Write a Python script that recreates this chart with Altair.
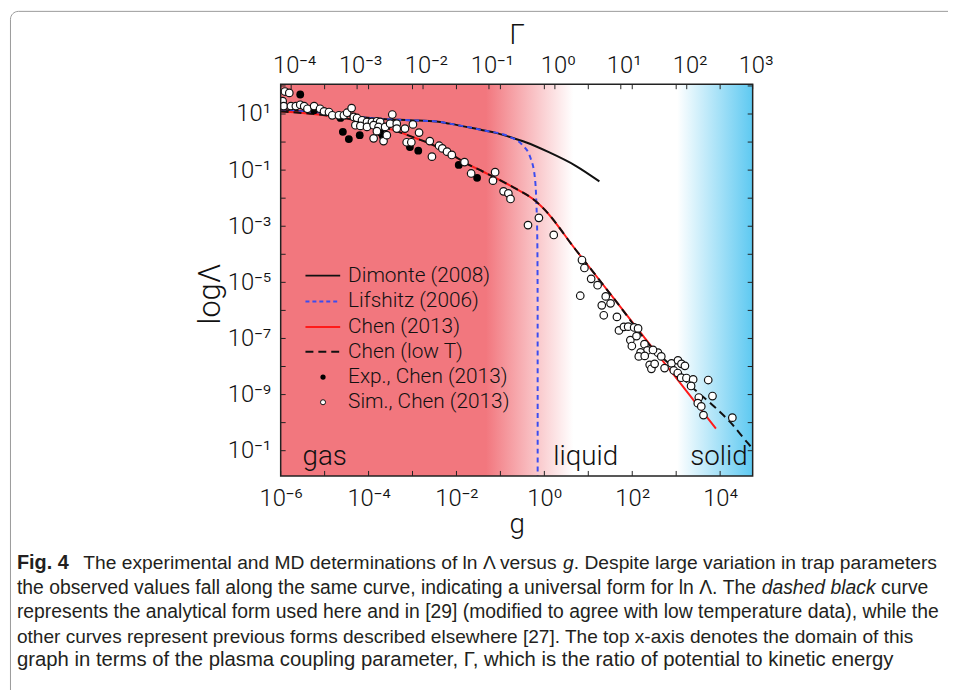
import altair as alt
import numpy as np
import pandas as pd

# ---------------- axis ranges and tick labels ----------------
G_DOMAIN = [1e-6, 5.5e4]
Y_DOMAIN = [1.26e-12, 115.0]
GAMMA_DOMAIN = [6.93e-5, 1.0e3]

g_tick_values = [1e-6, 1e-4, 1e-2, 1e0, 1e2, 1e4]
g_tick_labels = ["10⁻⁶", "10⁻⁴", "10⁻²", "10⁰", "10²", "10⁴"]
y_tick_values = [1e1, 1e-1, 1e-3, 1e-5, 1e-7, 1e-9, 1e-11]
y_tick_labels = ["10¹", "10⁻¹", "10⁻³", "10⁻⁵", "10⁻⁷", "10⁻⁹", "10⁻¹"]
gamma_tick_values = [1e-4, 1e-3, 1e-2, 1e-1, 1e0, 1e1, 1e2, 1e3]
gamma_tick_labels = ["10⁻⁴", "10⁻³", "10⁻²", "10⁻¹", "10⁰", "10¹", "10²", "10³"]
g_decades = [1e-6, 1e-5, 1e-4, 1e-3, 1e-2, 1e-1, 1e0, 1e1, 1e2, 1e3, 1e4]
y_decades = [1e-11, 1e-10, 1e-9, 1e-8, 1e-7, 1e-6, 1e-5, 1e-4, 1e-3, 1e-2, 1e-1, 1e0, 1e1, 1e2]

# ---------------- curves (log10 g, log10 lnLambda) ----------------
dimonte_lg = [-6.0, -5.316, -4.562, -3.810, -3.059, -2.456, -2.156, -1.402, -1.102, -0.801, -0.424, 0.102, 0.704, 1.253]
dimonte_ly = [1.141, 1.071, 0.954, 0.834, 0.777, 0.735, 0.657, 0.424, 0.329, 0.187, -0.007, -0.360, -0.837, -1.403]

lifshitz_lg = [-6.0, -5.316, -4.562, -3.810, -3.059, -2.456, -2.156, -1.402, -0.763, -0.499, -0.312, -0.214, -0.183, -0.160, -0.153, -0.152]
lifshitz_ly = [1.141, 1.071, 0.954, 0.834, 0.777, 0.735, 0.657, 0.424, 0.170, -0.106, -0.579, -1.286, -2.11, -3.52, -5.64, -11.9]

chen_lg = [-6.0, -5.316, -4.562, -3.962, -3.433, -2.907, -2.530, -2.156, -1.779, -1.402, -1.027, -0.650, -0.273, -0.047,
           0.704, 1.607, 2.51, 3.413, 3.903]
chen_ly = [1.088, 1.011, 0.859, 0.657, 0.424, 0.127, -0.106, -0.403, -0.756, -1.049, -1.343, -1.661, -2.014, -2.322,
           -3.82, -5.625, -7.43, -9.23, -10.21]

lowT_lg = [-6.0, -5.316, -4.562, -3.962, -3.433, -2.907, -2.530, -2.156, -1.779, -1.402, -1.027, -0.650, -0.273, -0.047,
           0.704, 1.607, 2.51, 2.962, 3.262, 3.864, 4.241, 4.616, 4.70]
lowT_ly = [1.088, 1.011, 0.859, 0.657, 0.424, 0.127, -0.106, -0.403, -0.756, -1.049, -1.343, -1.661, -2.014, -2.322,
           -3.82, -5.625, -7.43, -8.081, -8.587, -9.424, -10.0, -10.707, -10.855]

# ---------------- experimental points ----------------
exp_lg = [-5.555, -5.239, -4.639, -4.585, -4.449, -4.201, -3.720, -3.675, -3.059, -2.869, -1.948, -1.530]
exp_ly = [1.696, 1.131, 0.859, 0.364, 0.106, 0.247, 0.329, 0.205, -0.177, -0.307, -0.813, -1.276]

# ---------------- simulation points ----------------
sim_lg = [-5.903, -5.804, -5.955, -5.932, -5.767, -5.655, -5.555, -5.465, -5.391, -5.239,
          -5.104, -5.014, -4.901, -4.826, -4.675, -4.562, -4.488, -4.386, -4.336, -4.262,
          -4.149, -4.036, -3.923, -3.810, -3.736, -3.460, -4.300, -4.187, -4.036, -3.885,
          -3.772, -3.623, -3.510, -3.359, -3.172, -3.359, -2.991, -3.885, -3.659, -3.810,
          -3.585, -2.851, -3.133, -3.027, -2.607, -2.558, -2.395, -2.321, -2.214, -2.106,
          -1.817, -1.666, -1.120, -1.169, -0.928, -0.819, -0.770, -0.124, -0.372, 0.214,
          0.856, 0.912, 1.065, 1.212, 0.817, 1.397, 1.506, 1.307, 1.352, 1.652,
          1.698, 1.810, 1.907, 2.043, 1.957, 1.991, 2.097, 2.278, 2.345, 2.190,
          2.149, 2.397, 2.436, 2.585, 2.661, 2.736, 2.894, 3.041, 3.120, 3.199,
          2.510, 2.472, 2.133, 2.284, 2.946, 3.036, 3.113, 3.233, 3.386, 3.339,
          3.515, 3.492, 3.571, 3.621, 3.729, 3.826, 4.278]
sim_ly = [1.802, 1.753, 1.459, 1.283, 1.283, 1.283, 1.329, 1.283, 1.187, 1.283,
          1.187, 1.095, 1.071, 0.954, 0.954, 0.954, 1.046, 1.212, 0.894, 0.859,
          0.777, 0.717, 0.717, 0.742, 0.717, 0.982, 0.601, 0.576, 0.541, 0.601,
          0.541, 0.541, 0.657, 0.657, 0.481, 0.481, 0.629, 0.134, 0.035, 0.389,
          0.247, 0.339, -0.007, -0.007, 0.035, -0.519, -0.131, -0.226, -0.343, -0.459,
          -0.714, -1.120, -1.074, -1.375, -1.756, -1.827, -2.028, -2.700, -2.958, -3.311,
          -4.205, -4.488, -4.876, -5.102, -5.477, -5.502, -5.749, -5.820, -6.173, -6.233,
          -6.714, -6.587, -6.580, -6.608, -7.057, -7.269, -6.915, -7.205, -7.428, -7.498,
          -7.640, -7.940, -8.081, -7.505, -7.640, -8.057, -7.887, -7.781, -7.905, -7.975,
          -7.905, -7.410, -6.643, -7.622, -8.141, -8.233, -8.399, -8.410, -8.459, -8.693,
          -9.106, -9.307, -9.424, -9.731, -8.481, -9.053, -9.823]

legend_labels = ["Dimonte (2008)", "Lifshitz (2006)", "Chen (2013)", "Chen (low T)", "Exp., Chen (2013)", "Sim., Chen (2013)"]
phase_labels = ["gas", "liquid", "solid"]

caption_lines = [
    [("The experimental and MD determinations of ln Λ versus ", "normal"), ("g", "italic"),
     (". Despite large variation in trap parameters", "normal")],
    [("the observed values fall along the same curve, indicating a universal form for ln Λ. The ", "normal"),
     ("dashed black", "italic"), (" curve", "normal")],
    [("represents the analytical form used here and in [29] (modified to agree with low temperature data), while the", "normal")],
    [("other curves represent previous forms described elsewhere [27]. The top x-axis denotes the domain of this", "normal")],
    [("graph in terms of the plasma coupling parameter, Γ, which is the ratio of potential to kinetic energy", "normal")],
]
caption_label = "Fig. 4"

# ---------------- layout constants ----------------
W, H = 476, 395
OX, OY = 283, 82  # page position of the plot origin
FONT = "Roboto"
CAP_FONT = "Liberation Sans"
RED = "#f2777e"
BLUE_BG = "#5ec9f1"
CAP_Y = [565, 590, 614, 639, 663]
CAP_START = [84, 17, 17, 17, 17]
CAP_END = [945, None, 947, 922, 905]

# Helvetica/Arial advance widths (1/1000 em) used to fit and chain caption segments
_HW = {' ': 278, ',': 278, '.': 278, '-': 333, '(': 333, ')': 333, '[': 278, ']': 278, 'Λ': 667, 'Γ': 556}
_HW.update({d: 556 for d in "0123456789"})
_HW.update(dict(zip("ABCDEFGHIJKLMNOPQRSTUVWXYZ",
                    [667, 667, 722, 722, 667, 611, 778, 722, 278, 500, 667, 556, 833, 722, 778, 667, 778, 722, 667, 611,
                     722, 667, 944, 667, 667, 611])))
_HW.update(dict(zip("abcdefghijklmnopqrstuvwxyz",
                    [556, 556, 500, 556, 556, 278, 556, 556, 222, 222, 500, 222, 833, 556, 556, 556, 556, 333, 500, 278,
                     556, 500, 722, 500, 500, 500])))


def em_width(s):
    return sum(_HW.get(c, 556) for c in s) / 1000.0


def line_text(line):
    return "".join(t for t, _ in line)


cap_sizes = []
for k, line in enumerate(caption_lines):
    end = CAP_END[k] if CAP_END[k] is not None else CAP_END[2]
    ref = line if CAP_END[k] is not None else caption_lines[2]
    start = CAP_START[k] if CAP_END[k] is not None else CAP_START[2]
    cap_sizes.append((end - start) / em_width(line_text(ref)))


def curve_df(lg, ly):
    return pd.DataFrame({"g": 10.0 ** np.array(lg), "v": 10.0 ** np.array(ly), "i": np.arange(len(lg))})


xs = alt.Scale(type="log", domain=G_DOMAIN, nice=False)
ys = alt.Scale(type="log", domain=Y_DOMAIN, nice=False)
gs = alt.Scale(type="log", domain=GAMMA_DOMAIN, nice=False)


def label_expr(labels, idx):
    return "[" + ",".join("'" + s + "'" for s in labels) + "][" + idx + "]"


common_axis = dict(ticks=False, domain=False, grid=False, labelFlush=False, labelOverlap=False,
                   labelFont=FONT, labelFontSize=24, labelFontWeight=300, labelColor="#111",
                   titleFont=FONT, titleFontWeight=300, titleColor="#111", zindex=2)

bottom_axis = alt.Axis(
    orient="bottom", values=g_tick_values,
    labelExpr=label_expr(g_tick_labels, "round((log(datum.value)/LN10+6)/2)"),
    labelPadding=11, title="g", titleFontSize=28, titlePadding=0, **common_axis)
left_axis = alt.Axis(
    orient="left", values=y_tick_values,
    labelExpr=label_expr(y_tick_labels, "round((1-log(datum.value)/LN10)/2)"),
    labelPadding=10, title="logΛ", titleFontSize=31, titlePadding=1, titleY=211, **common_axis)
top_axis = alt.Axis(
    orient="top", values=gamma_tick_values,
    labelExpr=label_expr(gamma_tick_labels, "round(log(datum.value)/LN10+4)"),
    labelPadding=7, labelOffset=3, title="Γ", titleFontSize=28, titlePadding=4, **common_axis)

one = pd.DataFrame({"k": [0]})

# background gradient (gas -> liquid -> solid)
bg_df = pd.DataFrame({"g0": [G_DOMAIN[0]], "g1": [G_DOMAIN[1]], "v0": [Y_DOMAIN[0]], "v1": [Y_DOMAIN[1]]})
bg = alt.Chart(bg_df).mark_rect(
    strokeWidth=0,
    color=alt.Gradient(
        gradient="linear", x1=0, x2=1, y1=0, y2=0,
        stops=[
            alt.GradientStop(color=RED, offset=0.0),
            alt.GradientStop(color=RED, offset=0.435),
            alt.GradientStop(color="#f8b6ba", offset=0.52),
            alt.GradientStop(color="#ffffff", offset=0.62),
            alt.GradientStop(color="#ffffff", offset=0.84),
            alt.GradientStop(color=BLUE_BG, offset=1.0),
        ],
    ),
).encode(
    x=alt.X("g0:Q", scale=xs, axis=None),
    x2="g1:Q",
    y=alt.Y("v0:Q", scale=ys, axis=None),
    y2="v1:Q",
)


def line_layer(lg, ly, color, width=2.0, dash=None):
    kw = dict(color=color, strokeWidth=width, clip=True, interpolate="monotone")
    if dash is not None:
        kw["strokeDash"] = dash
    return alt.Chart(curve_df(lg, ly)).mark_line(**kw).encode(
        x=alt.X("g:Q", scale=xs, axis=None),
        y=alt.Y("v:Q", scale=ys, axis=None),
        order=alt.Order("i:Q"),
    )


dim_line = line_layer(dimonte_lg, dimonte_ly, "#111111", 2.0)
lif_line = line_layer(lifshitz_lg, lifshitz_ly, "#3b4cf0", 2.0, [5, 4])
chen_line = line_layer(chen_lg, chen_ly, "#ff1a1a", 2.0)
lowT_line = line_layer(lowT_lg, lowT_ly, "#111111", 2.0, [8, 5])

sim_pts = alt.Chart(curve_df(sim_lg, sim_ly)).mark_point(
    shape="circle", filled=True, fill="white", stroke="#111", strokeWidth=1.2, size=58, opacity=1, clip=True
).encode(x=alt.X("g:Q", scale=xs, axis=None), y=alt.Y("v:Q", scale=ys, axis=None))

exp_pts = alt.Chart(curve_df(exp_lg, exp_ly)).mark_circle(
    color="#000", size=62, opacity=1, clip=True
).encode(x=alt.X("g:Q", scale=xs, axis=None), y=alt.Y("v:Q", scale=ys, axis=None))

# inward ticks on all four sides (the bottom, left and top tick layers also carry the axes)
gdec = pd.DataFrame({"g": g_decades})
ydec = pd.DataFrame({"v": y_decades})
tick_b = alt.Chart(gdec).mark_rule(color="#222", strokeWidth=1).encode(
    x=alt.X("g:Q", scale=xs, axis=bottom_axis), y=alt.value(H), y2=alt.value(H - 5))
tick_t = alt.Chart(gdec).mark_rule(color="#222", strokeWidth=1).encode(
    x=alt.X("g:Q", scale=xs, axis=None), y=alt.value(0), y2=alt.value(5))
tick_l = alt.Chart(ydec).mark_rule(color="#222", strokeWidth=1).encode(
    y=alt.Y("v:Q", scale=ys, axis=left_axis), x=alt.value(0), x2=alt.value(5))
tick_r = alt.Chart(ydec).mark_rule(color="#222", strokeWidth=1).encode(
    y=alt.Y("v:Q", scale=ys, axis=None), x=alt.value(W), x2=alt.value(W - 5))
tick_gamma = alt.Chart(pd.DataFrame({"gam": gamma_tick_values})).mark_rule(color="#222", strokeWidth=1).encode(
    x=alt.X("gam:Q", scale=gs, axis=top_axis), y=alt.value(0), y2=alt.value(5))

# legend (drawn inside the plot)
leg_rows = [193, 219, 244.7, 269.7, 295.3, 320.7]
leg_layers = []
leg_styles = [("#111111", None), ("#3b4cf0", [4, 3]), ("#ff1a1a", None), ("#111111", [8, 5])]
for k, (col, dash) in enumerate(leg_styles):
    kw = dict(color=col, strokeWidth=2)
    if dash is not None:
        kw["strokeDash"] = dash
    leg_layers.append(alt.Chart(one).mark_rule(**kw).encode(
        x=alt.value(25), x2=alt.value(60), y=alt.value(leg_rows[k])))
leg_layers.append(alt.Chart(one).mark_circle(color="#000", size=28, opacity=1).encode(
    x=alt.value(42.7), y=alt.value(leg_rows[4])))
leg_layers.append(alt.Chart(one).mark_point(shape="circle", filled=True, fill="white", stroke="#111",
                                            strokeWidth=1, size=26, opacity=1).encode(
    x=alt.value(42.7), y=alt.value(leg_rows[5])))
for k, lab in enumerate(legend_labels):
    leg_layers.append(alt.Chart(one).mark_text(
        text=lab, align="left", baseline="middle", font=FONT, fontSize=21, fontWeight=300, color="#111"
    ).encode(x=alt.value(68), y=alt.value(leg_rows[k])))

# phase labels
phase_x = [22, 275, 413]
phase_layers = [
    alt.Chart(one).mark_text(text=lab, align="left", baseline="alphabetic", font=FONT, fontSize=28,
                             fontWeight=300, color="#111").encode(x=alt.value(px), y=alt.value(384))
    for lab, px in zip(phase_labels, phase_x)
]

# plot frame
plot_frame = alt.Chart(one).mark_rect(fillOpacity=0, stroke="#222", strokeWidth=1.5).encode(
    x=alt.value(0), x2=alt.value(W), y=alt.value(0), y2=alt.value(H))

# figure frame (rounded box)
fig_frame = alt.Chart(one).mark_rect(fillOpacity=0, stroke="#9a9a9a", strokeWidth=1, cornerRadius=8).encode(
    x=alt.value(10.5 - OX), x2=alt.value(990 - OX), y=alt.value(8.5 - OY), y2=alt.value(720 - OY))

# caption
cap_layers = [alt.Chart(one).mark_text(
    text=caption_label, align="left", baseline="middle", font=CAP_FONT, fontSize=20,
    fontWeight="bold", color="#231f20").encode(x=alt.value(17 - OX), y=alt.value(CAP_Y[0] - OY))]
for line, yy, x0, sz in zip(caption_lines, CAP_Y, CAP_START, cap_sizes):
    xx = x0
    for txt, st in line:
        lead = len(txt) - len(txt.lstrip(" "))
        xx += em_width(txt[:lead]) * sz
        body = txt.strip(" ")
        cap_layers.append(alt.Chart(one).mark_text(
            text=body, align="left", baseline="middle", font=CAP_FONT, fontSize=round(sz, 2),
            fontStyle=st, color="#231f20"
        ).encode(x=alt.value(round(xx - OX, 1)), y=alt.value(yy - OY)))
        xx += em_width(txt[lead:]) * sz

layers = [bg, dim_line, lif_line, chen_line, lowT_line, exp_pts, sim_pts,
          tick_b, tick_t, tick_l, tick_r, tick_gamma, plot_frame,
          *leg_layers, *phase_layers, fig_frame, *cap_layers]

chart = alt.layer(*layers).resolve_scale(x="independent", y="independent").properties(
    width=W, height=H,
    autosize=alt.AutoSizeParams(type="none"),
    padding={"left": OX - 8, "top": OY - 8, "right": 956 - 8 - (OX - 8) - W, "bottom": 690 - 8 - (OY - 8) - H},
    background="white",
).configure_view(stroke="transparent")

chart.save("out.html", embed_options={"renderer": "svg", "actions": False})
